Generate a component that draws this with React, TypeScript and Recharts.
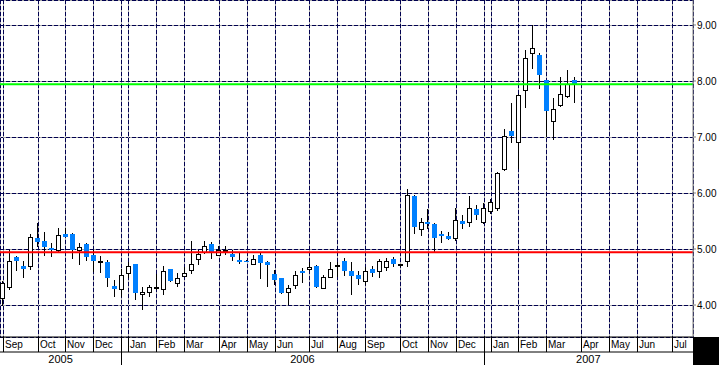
import React from "react";
import { ComposedChart, Bar, XAxis, YAxis, CartesianGrid, ReferenceLine } from "recharts";

// Weekly candles, week 0 = week ending 2 Sep 2005
const opens = [4.12, 4.32, 4.86, 4.70, 4.69, 5.19, 5.14, 5.01, 4.98, 5.27, 5.27, 4.98, 5.09, 4.89, 4.77, 4.77, 4.34, 4.28, 4.57, 4.73, 4.19, 4.24, 4.31, 4.28, 4.64, 4.39, 4.52, 4.63, 4.82, 4.95, 5.09, 4.89, 4.96, 4.91, 4.80, 4.79, 4.74, 4.89, 4.77, 4.55, 4.48, 4.23, 4.35, 4.60, 4.64, 4.70, 4.30, 4.50, 4.70, 4.79, 4.60, 4.53, 4.43, 4.64, 4.61, 4.67, 4.83, 4.71, 4.79, 5.95, 5.35, 5.48, 5.45, 5.26, 5.24, 5.19, 5.50, 5.48, 5.71, 5.49, 5.67, 5.74, 6.42, 7.11, 6.91, 7.84, 8.50, 8.47, 8.01, 7.28, 7.57, 7.74, 8.02];
const highs = [4.42, 4.98, 4.87, 4.79, 5.27, 5.46, 5.30, 5.10, 5.38, 5.37, 5.28, 5.11, 5.10, 4.98, 4.87, 4.80, 4.45, 4.65, 4.77, 4.74, 4.32, 4.36, 4.55, 4.69, 4.65, 4.57, 4.68, 5.14, 4.98, 5.14, 5.13, 5.05, 5.05, 4.98, 4.95, 4.80, 4.90, 4.92, 4.78, 4.63, 4.49, 4.36, 4.60, 4.66, 4.76, 4.71, 4.53, 4.77, 4.77, 4.84, 4.77, 4.60, 4.67, 4.70, 4.82, 4.84, 4.86, 4.74, 6.07, 5.96, 5.55, 5.72, 5.46, 5.32, 5.30, 5.73, 5.60, 5.94, 5.78, 5.82, 5.90, 6.38, 7.15, 7.60, 7.77, 8.56, 9.00, 8.50, 8.02, 7.70, 8.07, 8.20, 8.08];
const lows = [3.98, 4.27, 4.61, 4.49, 4.63, 5.04, 4.88, 4.85, 4.95, 5.21, 4.83, 4.71, 4.79, 4.59, 4.58, 4.33, 4.14, 4.14, 4.48, 4.09, 3.91, 4.14, 4.27, 4.18, 4.41, 4.32, 4.50, 4.55, 4.71, 4.91, 4.82, 4.88, 4.90, 4.79, 4.74, 4.76, 4.73, 4.46, 4.33, 4.35, 4.20, 4.00, 4.28, 4.40, 4.60, 4.31, 4.28, 4.48, 4.50, 4.51, 4.18, 4.36, 4.36, 4.50, 4.48, 4.60, 4.67, 4.68, 4.67, 5.27, 5.23, 5.35, 4.95, 5.10, 5.16, 5.15, 5.36, 5.40, 5.52, 5.45, 5.63, 5.68, 6.40, 6.90, 6.43, 7.51, 8.22, 7.85, 7.00, 6.94, 7.53, 7.70, 7.60];
const closes = [4.40, 4.79, 4.78, 4.65, 5.21, 5.13, 5.04, 4.99, 5.25, 5.22, 4.98, 5.04, 4.86, 4.79, 4.77, 4.49, 4.29, 4.54, 4.69, 4.21, 4.24, 4.32, 4.31, 4.61, 4.42, 4.48, 4.58, 4.73, 4.91, 5.06, 4.92, 4.98, 4.96, 4.86, 4.77, 4.77, 4.83, 4.75, 4.72, 4.45, 4.22, 4.30, 4.53, 4.57, 4.67, 4.33, 4.50, 4.65, 4.70, 4.61, 4.51, 4.47, 4.61, 4.57, 4.78, 4.78, 4.73, 4.71, 5.96, 5.40, 5.48, 5.45, 5.20, 5.24, 5.18, 5.52, 5.45, 5.74, 5.60, 5.74, 5.84, 6.36, 7.01, 7.02, 7.75, 8.41, 8.59, 8.10, 7.46, 7.50, 7.77, 7.95, 7.93];

const monthTicks = [0, 5, 9, 13, 18, 22, 26, 31, 35, 39, 44, 48, 52, 57, 61, 65, 70, 74, 78, 83, 87, 91, 96];
const monthLabels = ["Sep", "Oct", "Nov", "Dec", "Jan", "Feb", "Mar", "Apr", "May", "Jun", "Jul", "Aug", "Sep", "Oct", "Nov", "Dec", "Jan", "Feb", "Mar", "Apr", "May", "Jun", "Jul"];
const yearBounds = [17, 69];
const yearLabels = ["2005", "2006", "2007"];
const priceTicks = [4, 5, 6, 7, 8, 9];
const resistanceLevel = 7.94;
const supportLevel = 4.94;
const xDomain = [-0.39, 99.05];
const yDomain = [3.429, 9.446];

const data = opens.map((o, i) => ({
  i,
  o,
  h: highs[i],
  l: lows[i],
  c: closes[i],
  range: [lows[i], highs[i]],
}));

const yearEdges = [xDomain[0], ...yearBounds, xDomain[1]];
const yearMids = yearLabels.map((_, k) => (yearEdges[k] + yearEdges[k + 1]) / 2);
const gridTicks = [...monthTicks, ...yearBounds].sort((a, b) => a - b);

const FONT = "'Liberation Sans', Arial, sans-serif";
const BLUE = "#0080ff";
const GRID_GREY = "#a8a8a8";
const GRID_NAVY = "#000050";

const Candle = (props: any) => {
  const { x, y, width, height, payload } = props;
  if (x == null || y == null || !payload) return null;
  const { o, h, l, c } = payload;
  const k = height / (h - l);
  const px = Math.round(x + width / 2);
  const yO = y + (h - o) * k;
  const yC = y + (h - c) * k;
  const wick = (
    <line x1={px + 0.5} x2={px + 0.5} y1={Math.round(y)} y2={Math.round(y + height)} stroke="#000" strokeWidth={1} />
  );
  if (Math.abs(o - c) < 0.001) {
    return (
      <g>
        {wick}
        <rect x={px - 2} y={Math.round(yO) - 1} width={5} height={2} fill="#000" />
      </g>
    );
  }
  if (c > o) {
    const t = Math.round(yC);
    const b = Math.round(yO);
    return (
      <g>
        {wick}
        <rect x={px - 1.5} y={t + 0.5} width={4} height={Math.max(1, b - t)} fill="#fff" stroke="#000" strokeWidth={1} />
      </g>
    );
  }
  const t = Math.round(yO);
  const b = Math.round(yC);
  return (
    <g>
      {wick}
      <rect x={px - 2} y={t} width={5} height={Math.max(1, b - t)} fill={BLUE} />
    </g>
  );
};

const GridLine = (p: any) => {
  const vertical = Math.abs(p.x1 - p.x2) < 0.01;
  const x1 = vertical ? Math.round(p.x1) + 0.5 : p.x1;
  const x2 = vertical ? Math.round(p.x2) + 0.5 : p.x2;
  const y1 = vertical ? p.y1 : Math.round(p.y1) + 0.5;
  const y2 = vertical ? p.y2 : Math.round(p.y2) + 0.5;
  return (
    <g key={p.key}>
      <line x1={x1} x2={x2} y1={y1} y2={y2} stroke={GRID_GREY} strokeWidth={1} />
      <line x1={x1} x2={x2} y1={y1} y2={y2} stroke={GRID_NAVY} strokeWidth={1} strokeDasharray="4 2" />
    </g>
  );
};

const MonthTick = (props: any) => {
  const { x, y, payload } = props;
  const v = payload.value;
  const lx = Math.round(x) + 0.5;
  if (yearBounds.includes(v)) {
    return <line x1={lx} x2={lx} y1={y} y2={y + 28} stroke="#000" strokeWidth={1} />;
  }
  const idx = monthTicks.indexOf(v);
  return (
    <g>
      <line x1={lx} x2={lx} y1={y} y2={y + 15} stroke="#000" strokeWidth={1} />
      <text x={lx + 1.5} y={y + 11} fontSize={10} fontFamily={FONT} fill="#000">
        {monthLabels[idx]}
      </text>
    </g>
  );
};

const YearTick = (props: any) => {
  const { x, y, payload } = props;
  const idx = yearMids.findIndex((m) => Math.abs(m - payload.value) < 1e-6);
  return (
    <text x={x} y={y + 11} fontSize={11} fontFamily={FONT} fill="#000" textAnchor="middle">
      {yearLabels[idx]}
    </text>
  );
};

export default function App() {
  return (
    <div style={{ position: "absolute", left: 0, top: 0, width: 719, height: 365, background: "#fff" }}>
      <ComposedChart width={719} height={365} data={data} margin={{ top: 0, right: 0, bottom: 0, left: 0 }}>
        <CartesianGrid
          xAxisId="m"
          yAxisId="p"
          horizontal={(p: any) => <GridLine {...p} />}
          vertical={(p: any) => <GridLine {...p} />}
        />
        <XAxis
          xAxisId="m"
          dataKey="i"
          type="number"
          domain={xDomain}
          allowDataOverflow
          ticks={gridTicks}
          interval={0}
          height={15}
          tickSize={0}
          tickMargin={0}
          tickLine={false}
          axisLine={{ stroke: "#000" }}
          tick={<MonthTick />}
        />
        <XAxis
          xAxisId="y"
          dataKey="i"
          type="number"
          domain={xDomain}
          allowDataOverflow
          ticks={yearMids}
          interval={0}
          height={13}
          tickSize={0}
          tickMargin={0}
          tickLine={false}
          axisLine={{ stroke: "#000" }}
          tick={<YearTick />}
        />
        <YAxis
          yAxisId="p"
          orientation="right"
          type="number"
          domain={yDomain}
          allowDataOverflow
          ticks={priceTicks}
          interval={0}
          width={26}
          tickSize={3}
          tickMargin={1}
          axisLine={{ stroke: "#808080" }}
          tickLine={{ stroke: "#808080" }}
          tick={{ fontSize: 10, fontFamily: FONT, fill: "#000" }}
          tickFormatter={(v: number) => v.toFixed(2)}
        />
        <ReferenceLine xAxisId="m" yAxisId="p" y={supportLevel} stroke="#ff0000" strokeWidth={2} />
        <ReferenceLine xAxisId="m" yAxisId="p" y={resistanceLevel} stroke="#00ff00" strokeWidth={2} />
        <Bar xAxisId="m" yAxisId="p" dataKey="range" barSize={7} shape={<Candle />} isAnimationActive={false} />
      </ComposedChart>
      <div style={{ position: "absolute", left: 693, top: 337, width: 26, height: 28, background: "#000" }} />
    </div>
  );
}
